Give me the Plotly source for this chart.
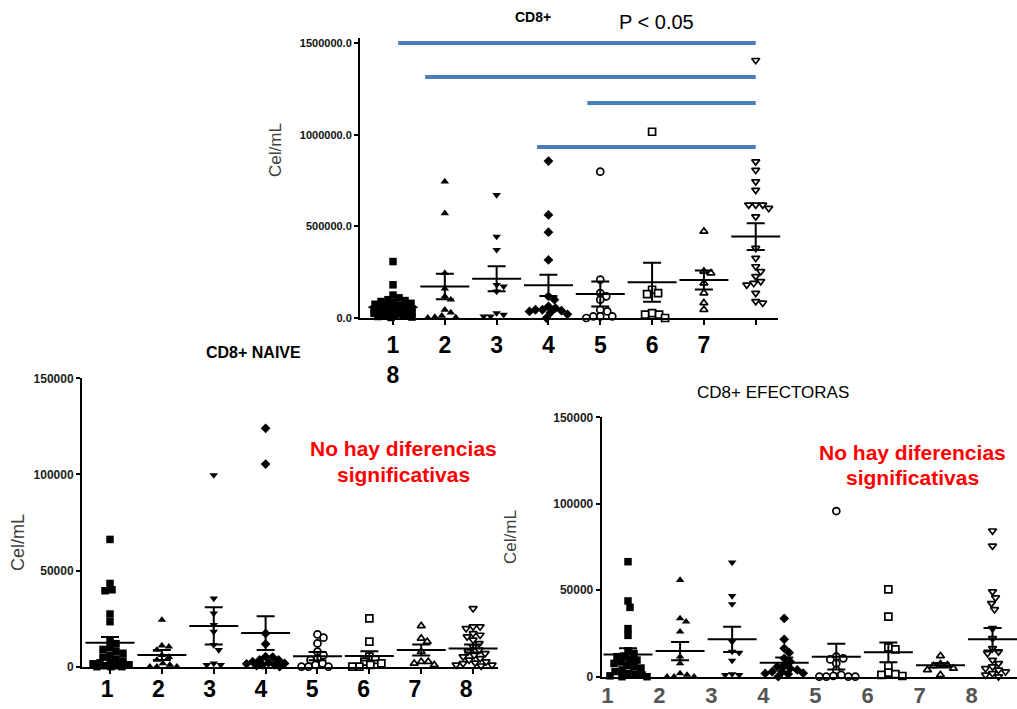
import numpy as np
import plotly.graph_objects as go

W, H = 1017, 709

# ---------------- data (cells/mL) ----------------
categories = [1, 2, 3, 4, 5, 6, 7, 8]

cd8_g1 = [308000, 181000, 125000, 110000, 100000, 95000, 90000, 85000, 80000, 75000, 70000, 65000,
          60000, 58000, 55000, 50000, 48000, 45000, 42000, 40000, 38000, 35000, 32000, 30000, 28000,
          25000, 22000, 20000, 18000, 15000, 12000, 10000, 8000, 5000, 3000]
cd8_g2 = [744000, 571000, 245000, 160000, 118000, 100000, 45000, 30000, 12000, 5000, 3000, 2000]
cd8_g3 = [671000, 444000, 372000, 181000, 172000, 145000, 27000, 18000, 9000, 9000]
cd8_g4 = [856000, 562000, 468000, 317000, 118000, 100000, 64000, 54000, 45000, 45000, 40000, 36000,
          30000, 20000, 0]
cd8_g5 = [798000, 209000, 136000, 118000, 100000, 45000, 36000, 9000, 9000, 9000, 0]
cd8_g6 = [1016000, 154000, 136000, 130000, 27000, 18000, 18000, 0]
cd8_g7 = [472000, 254000, 245000, 190000, 136000, 82000, 45000]
cd8_g8 = [1406000, 853000, 807000, 744000, 698000, 617000, 617000, 617000, 599000, 553000, 381000,
          327000, 281000, 254000, 227000, 200000, 190000, 181000, 136000, 91000, 82000]
cd8_mean = [58000, 172000, 214000, 178000, 131000, 195000, 207000, 444000]
cd8_sem = [18000, 70000, 68000, 58000, 68000, 107000, 52000, 73000]

naive_g1 = [66200, 43300, 40000, 39500, 27400, 23400, 14000, 12000, 10000, 9000, 8000, 7000, 6000,
            5000, 4000, 3000, 2500, 2000, 1500, 1000, 500, 500, 0, 0, 0]
naive_g2 = [24300, 11000, 10400, 8700, 6000, 5000, 3500, 1700, 1000, 0, 0, 0]
naive_g3 = [99700, 35500, 27700, 21700, 18200, 11300, 8700, 1700, 900, 900]
naive_g4 = [124000, 105400, 17300, 11800, 5200, 5000, 3500, 3500, 2600, 2000, 1700, 1500, 1000, 900, 500, 0]
naive_g5 = [16800, 15100, 12100, 7800, 6000, 4300, 3500, 1700, 900, 0, 0, 0]
naive_g6 = [25100, 13000, 5200, 3500, 2600, 1700, 900, 0, 0]
naive_g7 = [21200, 14700, 13000, 7800, 2600, 2600, 1700, 900]
naive_g8 = [30300, 20800, 20800, 19900, 17300, 16500, 15600, 13900, 12100, 10400, 8700, 7800, 6900,
            6000, 5200, 4300, 3500, 2600, 2000, 1700, 1000, 900, 500]
naive_mean = [12500, 6100, 21200, 17500, 5500, 5600, 8700, 9500]
naive_sem = [3000, 2600, 9700, 8800, 2200, 2400, 2900, 2100]

eff_g1 = [66500, 43800, 40100, 27800, 23900, 15000, 13500, 12000, 11600, 10000, 9600, 8500, 7700, 6500,
          5800, 5000, 3900, 3000, 1900, 1500, 1000, 500, 0, 0]
eff_g2 = [55900, 33700, 31800, 26000, 11600, 7700, 1900, 1000, 0, 0, 0]
eff_g3 = [66100, 46700, 42000, 20200, 14500, 13900, 9300, 1500, 1000, 1000]
eff_g4 = [33700, 21600, 16400, 13900, 10600, 8700, 6700, 5800, 4800, 3900, 3000, 2900, 2000, 1900, 1500, 0]
eff_g5 = [95800, 11600, 10600, 10000, 7700, 3900, 1000, 400, 0, 0, 0, 0]
eff_g6 = [50500, 34700, 17000, 15800, 6200, 2300, 1500, 1000, 400]
eff_g7 = [12000, 7300, 6700, 6200, 4800, 3900, 1000]
eff_g8 = [84400, 75600, 49200, 45700, 42400, 38900, 28000, 22200, 16400, 14500, 13500, 9600, 7700,
          5800, 4800, 3900, 2900, 1900, 1000, 0]
eff_mean = [12900, 14800, 21600, 8100, 11600, 14100, 6600, 21600]
eff_sem = [3600, 5300, 7300, 3000, 7500, 5700, 1300, 6500]

# significance bars (top panel): from group, to group, height
sig_from = [1.1, 1.62, 4.75, 3.78]
sig_to = [8.0, 8.0, 8.0, 8.0]
sig_y = [1500000, 1314000, 1173000, 933000]

y_ticks_top = [0, 500000, 1000000, 1500000]
y_ticktext_top = ["0.0", "500000.0", "1000000.0", "1500000.0"]
y_ticks_bottom = [0, 50000, 100000, 150000]
y_ticktext_bottom = ["0", "50000", "100000", "150000"]
x_ticktext_top = ["1<br>8", "2", "3", "4", "5", "6", "7", ""]
x_ticktext_bottom = ["1", "2", "3", "4", "5", "6", "7", "8"]

# ---------------- styling ----------------
FONT = "Arial, Liberation Sans, sans-serif"
symbols = ["square", "triangle-up", "triangle-down", "diamond", "circle", "square", "triangle-up", "triangle-down"]
filled = [True, True, True, True, False, False, False, False]


def px(x):
    return x / W


def py(y):
    return 1 - y / H


# panel geometry in pixels: x-axis start/end px, y for value 0 and for the range top
panels = {
    "top": dict(x0=360, x1=778, y0=318, y1=318 - 275 * 1.53 / 1.5, xr=[0.363, 8.43], yr=[0, 1530000]),
    "bl": dict(x0=82, x1=498, y0=666.7, y1=378.3, xr=[0.46, 8.48], yr=[0, 150000]),
    "br": dict(x0=601.7, x1=1017, y0=676.7, y1=417.3, xr=[0.495, 8.47], yr=[0, 150000]),
}


def swarm(values, ppc, ppv, d=6.5, maxoff=19):
    """simple beeswarm: returns x offsets (category units) for each value"""
    vals = np.asarray(values, float)
    order = np.argsort(-vals)
    placed = []
    offs = np.zeros(len(vals))
    cands = [0]
    for s in np.arange(1, maxoff + 0.1, 1.0):
        cands += [s, -s]
    for i in order:
        yp = vals[i] * ppv
        best, bestd = 0, -1
        for c in cands:
            md = min([np.hypot(c - a, yp - b) for a, b in placed], default=1e9)
            if md >= d:
                best, bestd = c, md
                break
            if md > bestd:
                best, bestd = c, md
        placed.append((best, yp))
        offs[i] = best / ppc
    return offs


fig = go.Figure()


def add_panel(key, groups, means, sems, xa, ya):
    p = panels[key]
    ppc = (p["x1"] - p["x0"]) / (p["xr"][1] - p["xr"][0])
    ppv = (p["y0"] - p["y1"]) / (p["yr"][1] - p["yr"][0])
    for k, vals in enumerate(groups):
        offs = swarm(vals, ppc, ppv)
        xs = [categories[k] + o for o in offs]
        if filled[k]:
            mk = dict(symbol=symbols[k], size=7.5, color="black", line=dict(width=0))
        else:
            mk = dict(symbol=symbols[k], size=7, color="white", line=dict(width=1.7, color="black"))
        fig.add_trace(go.Scatter(x=xs, y=vals, mode="markers", marker=mk, xaxis=xa, yaxis=ya,
                                 cliponaxis=False, showlegend=False, hoverinfo="y"))
    fig.add_trace(go.Scatter(
        x=categories, y=means, mode="markers", xaxis=xa, yaxis=ya, cliponaxis=False, showlegend=False,
        marker=dict(symbol="line-ew", size=35, color="black", line=dict(width=2, color="black")),
        error_y=dict(type="data", array=sems, visible=True, width=9, thickness=2, color="black"),
        hoverinfo="y"))


add_panel("top", [cd8_g1, cd8_g2, cd8_g3, cd8_g4, cd8_g5, cd8_g6, cd8_g7, cd8_g8], cd8_mean, cd8_sem, "x", "y")
add_panel("bl", [naive_g1, naive_g2, naive_g3, naive_g4, naive_g5, naive_g6, naive_g7, naive_g8],
          naive_mean, naive_sem, "x2", "y2")
add_panel("br", [eff_g1, eff_g2, eff_g3, eff_g4, eff_g5, eff_g6, eff_g7, eff_g8], eff_mean, eff_sem, "x3", "y3")

# significance lines
for a, b, h in zip(sig_from, sig_to, sig_y):
    fig.add_shape(type="line", xref="x", yref="y", x0=a, x1=b, y0=h, y1=h,
                  line=dict(color="#4a7ebb", width=4))


def xdom(p):
    return [px(p["x0"]), min(1.0, px(p["x1"]))]


def ydom(p):
    return [py(p["y0"]), py(p["y1"])]


axis_common = dict(showgrid=False, zeroline=False, showline=True, linecolor="black", linewidth=2,
                   ticks="outside", tickcolor="black", tickwidth=2, automargin=False)

pt, pbl, pbr = panels["top"], panels["bl"], panels["br"]

fig.update_layout(
    width=W, height=H, margin=dict(l=0, r=0, t=0, b=0, pad=0, autoexpand=False),
    paper_bgcolor="white", plot_bgcolor="white",
    font=dict(family=FONT, color="black"),
    xaxis=dict(domain=xdom(pt), range=pt["xr"], anchor="y", tickvals=categories, ticktext=x_ticktext_top,
               ticklen=5, tickfont=dict(size=23, weight="bold", color="black"), **axis_common),
    yaxis=dict(domain=ydom(pt), range=pt["yr"], anchor="x", tickvals=y_ticks_top, ticktext=y_ticktext_top,
               ticklen=4, tickfont=dict(size=11, weight="bold", color="#111"), **axis_common),
    xaxis2=dict(domain=xdom(pbl), range=pbl["xr"], anchor="y2", tickvals=categories, showticklabels=False,
                ticklen=5, **axis_common),
    yaxis2=dict(domain=ydom(pbl), range=pbl["yr"], anchor="x2", tickvals=y_ticks_bottom,
                ticktext=y_ticktext_bottom, ticklen=4, tickfont=dict(size=12, weight="bold", color="#222"),
                **axis_common),
    xaxis3=dict(domain=xdom(pbr), range=pbr["xr"], anchor="y3", tickvals=categories, showticklabels=False,
                ticklen=0, **axis_common),
    yaxis3=dict(domain=ydom(pbr), range=pbr["yr"], anchor="x3", tickvals=y_ticks_bottom,
                ticktext=y_ticktext_bottom, ticklen=4, tickfont=dict(size=12, weight="bold", color="#222"),
                **axis_common),
    # label-only axes for the bottom panels (labels slightly offset from the columns)
    xaxis4=dict(domain=xdom(pbl), range=[0.511, 8.622], overlaying="x2", anchor="y2", side="bottom",
                showgrid=False, zeroline=False, showline=False, ticks="", tickvals=categories,
                ticktext=x_ticktext_bottom, ticklabelstandoff=6, automargin=False,
                tickfont=dict(size=23, weight="bold", color="black")),
    xaxis5=dict(domain=xdom(pbr), range=[0.892, 8.873], overlaying="x3", anchor="y3", side="bottom",
                showgrid=False, zeroline=False, showline=False, ticks="", tickvals=categories,
                ticktext=x_ticktext_bottom, ticklabelstandoff=3, automargin=False,
                tickfont=dict(size=22, weight="bold", color="#555")),
)

# empty traces so the label axes render
fig.add_trace(go.Scatter(x=[], y=[], xaxis="x4", yaxis="y2", showlegend=False))
fig.add_trace(go.Scatter(x=[], y=[], xaxis="x5", yaxis="y3", showlegend=False))


def ann(text, x, y, size, color="black", bold=False, angle=0):
    fig.add_annotation(text=text, x=px(x), y=py(y), xref="paper", yref="paper", showarrow=False,
                       xanchor="center", yanchor="middle", textangle=angle,
                       font=dict(family=FONT, size=size, color=color, weight="bold" if bold else "normal"))


ann("CD8+", 533, 17, 14, bold=True)
ann("P < 0.05", 656, 22, 20)
ann("Cel/mL", 275, 150, 17, color="#404040", angle=-90)
ann("CD8+ NAIVE", 253, 352, 16, bold=True)
ann("Cel/mL", 18, 543, 18, color="#404040", angle=-90)
ann("CD8+ EFECTORAS", 773, 392, 17)
ann("Cel/mL", 510, 537, 17, color="#404040", angle=-90)
ann("No hay diferencias", 403, 448, 21, color="#ff0000", bold=True)
ann("significativas", 403, 475, 21, color="#ff0000", bold=True)
ann("No hay diferencias", 912, 452, 21, color="#ff0000", bold=True)
ann("significativas", 912, 478, 21, color="#ff0000", bold=True)

# remove the browser's default page margin so the figure sits at the window's corner
fig.write_html("out.html", config={"displayModeBar": False},
               post_script="document.body.style.margin='0';document.body.style.overflow='hidden';")
